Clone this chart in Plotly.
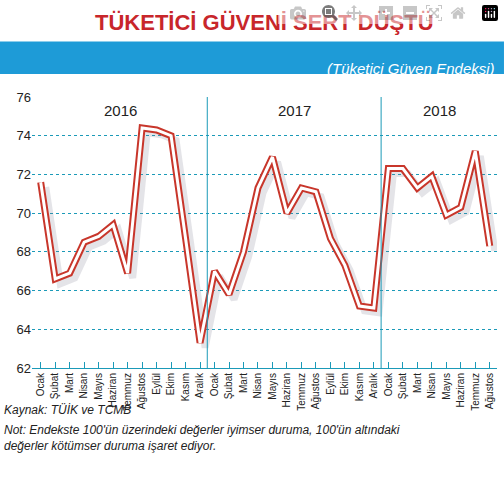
import plotly.graph_objects as go

months = ['Ocak', 'Şubat', 'Mart', 'Nisan', 'Mayıs', 'Haziran', 'Temmuz',
          'Ağustos', 'Eylül', 'Ekim', 'Kasım', 'Aralık']
labels = months + months + months[:8]
years = ['2016', '2017', '2018']
values = [71.6, 66.6, 66.9, 68.5, 68.8, 69.4, 66.9, 74.4, 74.3, 74.0, 68.7, 63.3,
          67.0, 65.8, 68.0, 71.3, 72.9, 70.0, 71.3, 71.1, 68.7, 67.3, 65.2, 65.1,
          72.3, 72.3, 71.3, 71.9, 69.9, 70.3, 73.2, 68.3]
x = list(range(len(values)))

fig = go.Figure()
# shadow
fig.add_trace(go.Scatter(x=[i + 0.35 for i in x], y=[v - 0.25 for v in values], mode='lines',
                         line=dict(color='rgba(120,120,140,0.2)', width=7), hoverinfo='skip'))
fig.add_trace(go.Scatter(x=x, y=values, mode='lines',
                         line=dict(color='#c8362b', width=7)))
fig.add_trace(go.Scatter(x=x, y=values, mode='lines',
                         line=dict(color='white', width=3)))

teal = '#1b9ab8'
for i, yr in enumerate(years):
    fig.add_annotation(x=12 * i + 5.5 if i < 2 else 27.5, y=75.3, text=yr, showarrow=False,
                       font=dict(family='Liberation Sans Narrow, Arial', size=15, color='#222'))
for xv in [11.5, 23.5]:
    fig.add_shape(type='line', x0=xv, x1=xv, y0=62, y1=76, line=dict(color=teal, width=1))

# header
fig.add_annotation(xref='paper', yref='paper', x=0.5, y=1.33, text='<b>TÜKETİCİ GÜVENİ SERT DÜŞTÜ</b>',
                   showarrow=False, font=dict(family='Liberation Sans Narrow, Arial', size=22, color='#c8262b'))
fig.add_shape(type='rect', xref='paper', yref='paper', x0=-0.07, x1=1.015, y0=1.085, y1=1.205,
              fillcolor='#1e9bd7', line_width=0, layer='below')
fig.add_annotation(xref='paper', yref='paper', x=1.0, y=1.145, xanchor='right',
                   text='<i>(Tüketici Güven Endeksi)</i>', showarrow=False,
                   font=dict(family='Arial', size=15, color='white'))
fig.add_annotation(xref='paper', yref='paper', x=-0.065, y=-0.12, xanchor='left', yanchor='top', align='left',
                   text='<i>Kaynak: TÜİK ve TCMB</i>', showarrow=False,
                   font=dict(family='Arial', size=12, color='#222'))
fig.add_annotation(xref='paper', yref='paper', x=-0.065, y=-0.195, xanchor='left', yanchor='top', align='left',
                   text="<i>Not: Endekste 100'ün üzerindeki değerler iyimser duruma, 100'ün altındaki<br>"
                        "değerler kötümser duruma işaret ediyor.</i>", showarrow=False,
                   font=dict(family='Arial', size=12, color='#222'))

fig.update_layout(
    width=504, height=482, showlegend=False,
    paper_bgcolor='white', plot_bgcolor='white',
    margin=dict(l=32, r=7, t=97, b=114),
    xaxis=dict(range=[-0.6, 31.5], tickvals=x, ticktext=labels, tickangle=-90,
               ticks='inside', ticklen=6, tickcolor=teal, showgrid=False, zeroline=False,
               tickfont=dict(family='Liberation Sans Narrow, Arial', size=10, color='#222'),
               showline=True, linecolor=teal),
    yaxis=dict(range=[62, 76], dtick=2, showgrid=True, gridcolor=teal, griddash='dot',
               zeroline=False, tickfont=dict(family='Liberation Sans Narrow, Arial', size=13, color='#222')),
)
fig.write_html('out.html', post_script="document.body.style.margin='0';")
